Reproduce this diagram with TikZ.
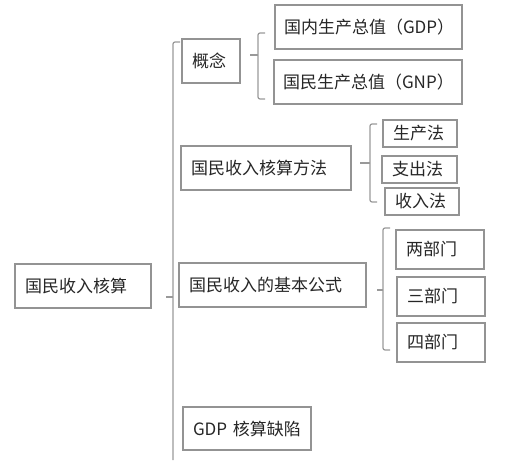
\documentclass[tikz,border=0pt]{standalone}
\usepackage{fontspec}
\newfontfamily\cjk{Noto Sans CJK SC}
\usetikzlibrary{positioning}

\begin{document}
\begin{tikzpicture}[
    x=1pt, y=-1pt,
    box/.style={rectangle, draw=gray!85, line width=1.2pt, inner xsep=10pt, inner ysep=0pt, align=left, font=\cjk\fontsize{17}{20}\selectfont, text=black!85},
    brace/.style={draw=gray!80, line width=1.2pt, rounded corners=2pt},
    tick/.style={draw=gray!80, line width=1.2pt}
]
\useasboundingbox (0,0) rectangle (524,460);

% Root
\node[box, text width=116pt, minimum height=44pt] (root) at (83,286) {国民收入核算};

% First level
\node[box, text width=38pt, minimum height=44pt] (gainian) at (211,61) {概念};
\node[box, text width=150pt, minimum height=44pt] (fangfa) at (266,168) {国民收入核算方法};
\node[box, text width=167pt, minimum height=44pt] (gongshi) at (272.5,285) {国民收入的基本公式};
\node[box, text width=108pt, minimum height=43pt] (quexian) at (247,428.5) {GDP 核算缺陷};

% Concepts
\node[box, inner xsep=9pt, text width=169pt, minimum height=44pt] (gdp) at (368.5,27) {国内生产总值（GDP）};
\node[box, inner xsep=9pt, text width=170pt, minimum height=44pt] (gnp) at (368,82) {国民生产总值（GNP）};

% Methods
\node[box, text width=54pt, minimum height=27pt] (shengchan) at (420,133.5) {生产法};
\node[box, text width=55pt, minimum height=27pt] (zhichu) at (419.5,169.5) {支出法};
\node[box, text width=54pt, minimum height=27pt] (shouru) at (422,201.5) {收入法};

% Formulas
\node[box, text width=68pt, minimum height=39pt] (liang) at (440,249.5) {两部门};
\node[box, text width=68pt, minimum height=39pt] (san) at (441,296.5) {三部门};
\node[box, text width=68pt, minimum height=39pt] (si) at (441,342.5) {四部门};

% Brace points
\coordinate (b0) at (173,297);
\coordinate (b1) at (258,55);
\coordinate (b2) at (370,163);
\coordinate (b3) at (383,290);

% Braces
\draw[brace] (180,42) -- (173,42) -- (173,460);
\draw[tick] (b0) -- ++(-7,0);
\draw[brace] (265,33) -- (258,33) -- (258,99) -- (265,99);
\draw[tick] (b1) -- ++(-8,0);
\draw[brace] (377,124) -- (370,124) -- (370,202) -- (377,202);
\draw[tick] (b2) -- ++(-10,0);
\draw[brace] (390,228) -- (383,228) -- (383,350) -- (390,350);
\draw[tick] (b3) -- ++(-6,0);

\end{tikzpicture}
\end{document}
